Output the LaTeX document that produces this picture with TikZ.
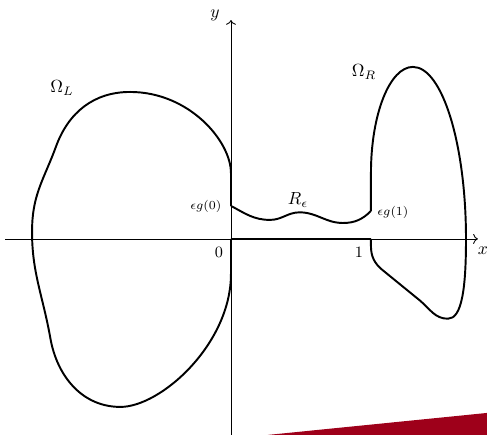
\documentclass[tikz,border=0pt]{standalone}
\usepackage{amsmath, amssymb}
\usetikzlibrary{calc, arrows.meta}
\definecolor{darkred}{RGB}{158,0,26}

\begin{document}
\begin{tikzpicture}[x=2.8cm, y=2.8cm,
    boundary/.style={line width=1.1pt, line join=round},
    axis/.style={->, line width=0.5pt}]
  \useasboundingbox (-1.65,-1.4) rectangle (1.829,1.707);
  % Red wedge in the corner
  \fill[darkred] (0.264,-1.4) -- (1.829,-1.243) -- (1.829,-1.4) -- cycle;
  % Axes
  \coordinate (O) at (0,0);
  \coordinate (xend) at (1.764,0);
  \coordinate (yend) at (0,1.564);
  \draw[axis] (-1.614,0) -- (xend);
  \draw[axis] (0,-1.4) -- (yend);
  \node (xlab) at (1.8,-0.085) {$x$};
  \node (ylab) at (-0.114,1.6) {$y$};
  % Left domain
  \draw[boundary] (O) -- (0,-0.25)
    .. controls (0,-0.75) and (-0.5,-1.2) .. (-0.79,-1.2)
    to[out=180,in=-80] (-1.29,-0.71)
    to[out=100,in=-92] (-1.42,0.1)
    to[out=88,in=-110] (-1.25,0.66)
    .. controls (-1.161,0.904) and (-0.98,1.05) .. (-0.72,1.05)
    .. controls (-0.3,1.05) and (0,0.7) .. (0,0.47)
    -- (0,0.236);
  % Thin channel R_eps
  \draw[boundary] (0,0.236) to[out=-28,in=180] (0.279,0.136)
    to[out=0,in=180] (0.49,0.19)
    to[out=0,in=180] (0.8,0.114)
    to[out=0,in=-135] (1,0.2);
  \draw[boundary] (O) -- (1,0);
  % Right domain
  \draw[boundary] (1,0.2) -- (1,0.47)
    .. controls (1,0.89) and (1.134,1.229) .. (1.3,1.229)
    .. controls (1.509,1.229) and (1.679,0.678) .. (1.679,0)
    .. controls (1.679,-0.35) and (1.65,-0.57) .. (1.55,-0.57)
    to[out=180,in=-40] (1.35,-0.44)
    -- (1.08,-0.22)
    to[out=140,in=-90] (1,-0.05)
    -- (1,0);
  % Labels
  \node (omegaL) at (-1.207,1.079) {$\Omega_L$};
  \node (omegaR) at (0.95,1.193) {$\Omega_R$};
  \node (reps) at (0.479,0.279) {$R_\epsilon$};
  \node[font=\scriptsize] (gzero) at (-0.179,0.229) {$\epsilon g(0)$};
  \node[font=\scriptsize] (gone) at (1.157,0.193) {$\epsilon g(1)$};
  \node[font=\small] (zero) at (-0.086,-0.093) {$0$};
  \node[font=\small] (one) at (0.914,-0.093) {$1$};
\end{tikzpicture}
\end{document}
